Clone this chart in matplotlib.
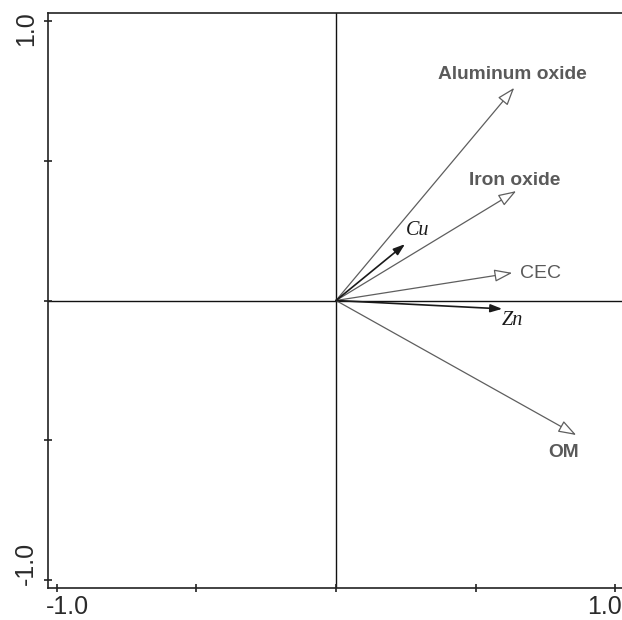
import matplotlib
matplotlib.use("Agg")
import matplotlib.pyplot as plt
from matplotlib.patches import FancyArrowPatch
from matplotlib.transforms import ScaledTranslation

# Loadings of the environmental variables (biplot arrows)
env_names = ["Aluminum oxide", "Iron oxide", "CEC", "OM"]
env_x = [0.638, 0.645, 0.631, 0.860]
env_y = [0.762, 0.392, 0.099, -0.482]

# Loadings of the response variables
resp_names = ["Cu", "Zn"]
resp_x = [0.247, 0.595]
resp_y = [0.202, -0.030]

# Label anchor points
env_label_x = [0.632, 0.640, 0.732, 0.815]
env_label_y = [0.808, 0.431, 0.095, -0.543]
resp_label_x = [0.293, 0.632]
resp_label_y = [0.249, -0.073]

tick_vals = [-1.0, -0.5, 0.0, 0.5, 1.0]
tick_labels = ["-1.0", "", "", "", "1.0"]

fig = plt.figure(figsize=(6.22, 6.20), dpi=100)
ax = fig.add_axes([48 / 622, 32 / 620, 576 / 622, 575 / 620])
ax.set_xlim(-1.031, 1.031)
ax.set_ylim(-1.030, 1.030)

ax.axhline(0, color="#111111", lw=1.0, zorder=1)
ax.axvline(0, color="#111111", lw=1.0, zorder=1)

grey = "#5e5e5e"
for name, x, y, lx, ly in zip(env_names, env_x, env_y, env_label_x, env_label_y):
    arr = FancyArrowPatch((0, 0), (x, y),
                          arrowstyle="-|>,head_length=1.1,head_width=0.38",
                          mutation_scale=10, shrinkA=0, shrinkB=0,
                          lw=0.9, edgecolor=grey, facecolor="white", zorder=3)
    ax.add_patch(arr)
    bold = name != "CEC"
    ax.text(lx, ly, name, ha="center", va="center",
            fontsize=13.8 if bold else 14,
            fontweight="bold" if bold else "normal",
            family="Liberation Sans", color="#5a5a5a", zorder=4)

for name, x, y, lx, ly in zip(resp_names, resp_x, resp_y, resp_label_x, resp_label_y):
    arr = FancyArrowPatch((0, 0), (x, y),
                          arrowstyle="-|>,head_length=0.7,head_width=0.24",
                          mutation_scale=10, shrinkA=0, shrinkB=0,
                          lw=1.2, edgecolor="#1a1a1a", facecolor="#1a1a1a", zorder=3)
    ax.add_patch(arr)
    ax.text(lx, ly, name, ha="center", va="center", fontsize=14.5,
            fontstyle="italic", family="Liberation Serif", color="#1a1a1a", zorder=4)

# Frame and ticks
for side in ["left", "top", "bottom", "right"]:
    ax.spines[side].set_linewidth(1.2)
    ax.spines[side].set_color("#222222")

ax.set_xticks(tick_vals)
ax.set_yticks(tick_vals)
ax.set_xticklabels(tick_labels)
ax.set_yticklabels(tick_labels, rotation=90, va="center")
ax.tick_params(direction="inout", length=6, width=1.2, color="#222222",
               labelsize=18, labelcolor="#2a2a2a", pad=4)
ax.tick_params(axis="x", pad=2)
for lab in ax.get_xticklabels() + ax.get_yticklabels():
    lab.set_family("Liberation Sans")

xl = ax.get_xticklabels()
xl[0].set_transform(xl[0].get_transform() + ScaledTranslation(11 / 100, 0, fig.dpi_scale_trans))
xl[-1].set_transform(xl[-1].get_transform() + ScaledTranslation(-11 / 100, 0, fig.dpi_scale_trans))
yl = ax.get_yticklabels()
yl[0].set_transform(yl[0].get_transform() + ScaledTranslation(0, 16 / 100, fig.dpi_scale_trans))
yl[-1].set_transform(yl[-1].get_transform() + ScaledTranslation(0, -7 / 100, fig.dpi_scale_trans))

fig.savefig("out.png", dpi=100, facecolor="white")
